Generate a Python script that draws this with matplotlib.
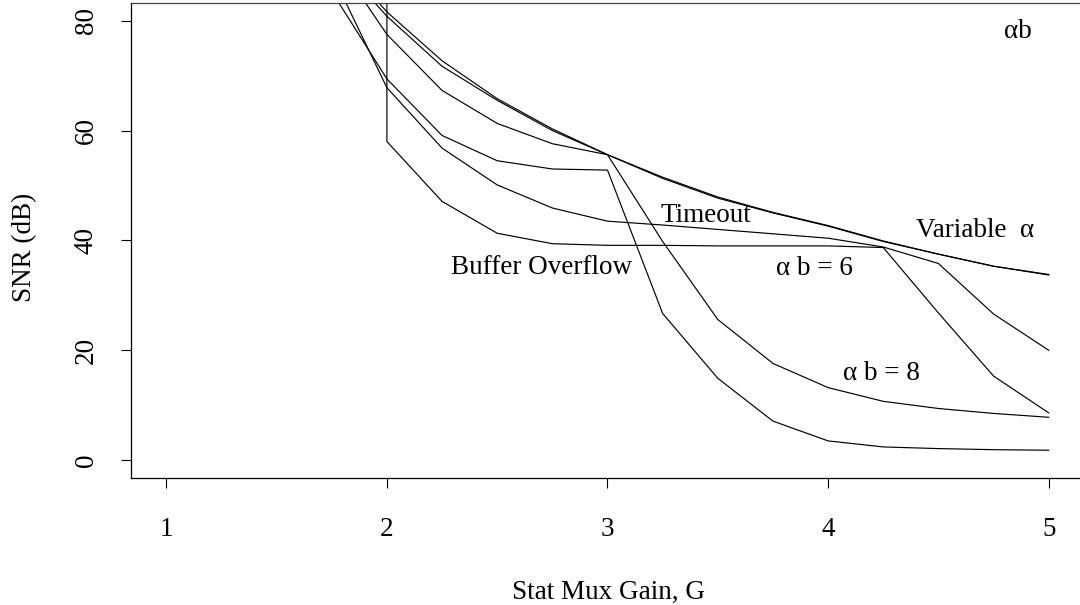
import matplotlib
matplotlib.use("Agg")
import matplotlib.pyplot as plt

plt.rcParams['font.family'] = ['Liberation Serif', 'DejaVu Serif']

# Data
G = [1.75, 2.0, 2.25, 2.5, 2.75, 3.0, 3.25, 3.5, 3.75, 4.0, 4.25, 4.5, 4.75, 5.0]
var_alpha_1 = [93.0, 81.6, 72.7, 65.8, 60.3, 55.6, 51.5, 47.9, 45.1, 42.7, 39.9, 37.5, 35.3, 33.8]
var_alpha_2 = [92.0, 80.8, 71.7, 65.5, 60.0, 55.6, 51.3, 47.7, 45.0, 42.6, 39.8, 37.5, 35.3, 33.7]
ab8_timeout = [92.3, 77.5, 67.3, 61.3, 57.6, 55.6, 39.8, 25.6, 17.6, 13.2, 10.7, 9.4, 8.5, 7.8]
ab8_buffer = [85.3, 69.4, 59.1, 54.5, 53.0, 52.8, 26.7, 14.9, 7.1, 3.5, 2.4, 2.1, 1.9, 1.8]
ab6_timeout = [88.6, 67.8, 56.8, 50.1, 45.9, 43.5, 42.8, 42.0, 41.2, 40.4, 38.8, 35.8, 26.6, 20.0]
G_buffer = [2.0, 2.0, 2.25, 2.5, 2.75, 3.0, 3.25, 3.5, 3.75, 4.0, 4.25, 4.5, 4.75, 5.0]
ab6_buffer = [95.0, 58.0, 47.1, 41.3, 39.4, 39.1, 39.1, 39.0, 39.0, 39.0, 38.7, 26.8, 15.3, 8.6]

x_ticks = [1, 2, 3, 4, 5]
y_ticks = [0, 20, 40, 60, 80]

labels = [
    ("αb", 4.86, 78.0),
    ("Variable  α", 4.667, 41.8),
    ("Timeout", 3.448, 44.5),
    ("Buffer Overflow", 2.70, 35.0),
    ("α b = 6", 3.94, 34.9),
    ("α b = 8", 4.24, 15.8),
]

FS = 19.5
fig = plt.figure(figsize=(10.8, 6.05), dpi=100)
ax = fig.add_axes([131/1080, 1 - 477.7/605, (1084-131)/1080, (477.7-3.1)/605])

series = [(G, var_alpha_1), (G, var_alpha_2), (G, ab8_timeout), (G, ab8_buffer),
          (G, ab6_timeout), (G_buffer, ab6_buffer)]
for xs, ys in series:
    ax.plot(xs, ys, color='black', lw=0.85)

ax.set_xlim(0.84, 5.16)
ax.set_ylim(-3.2, 83.2)
ax.set_xticks(x_ticks)
ax.set_yticks(y_ticks)
ax.set_xticklabels([str(v) for v in x_ticks], fontsize=FS)
ax.set_yticklabels([str(v) for v in y_ticks], fontsize=FS, rotation=90, va='center')
ax.tick_params(axis='x', length=7.2, width=0.8, pad=21)
ax.tick_params(axis='y', length=7.2, width=0.8, pad=16)
for s in ax.spines.values():
    s.set_linewidth(0.9)
ax.spines['top'].set_color('#444444')

for txt, x, y in labels:
    ax.text(x, y, txt, fontsize=FS, ha='center', va='center')

fig.text(608/1080, 1 - 592/605, "Stat Mux Gain, G", fontsize=FS, ha='center', va='center')
fig.text(25/1080, 1 - 247/605, "SNR (dB)", fontsize=FS, ha='center', va='center', rotation=90)

fig.savefig("out.png", dpi=100)
